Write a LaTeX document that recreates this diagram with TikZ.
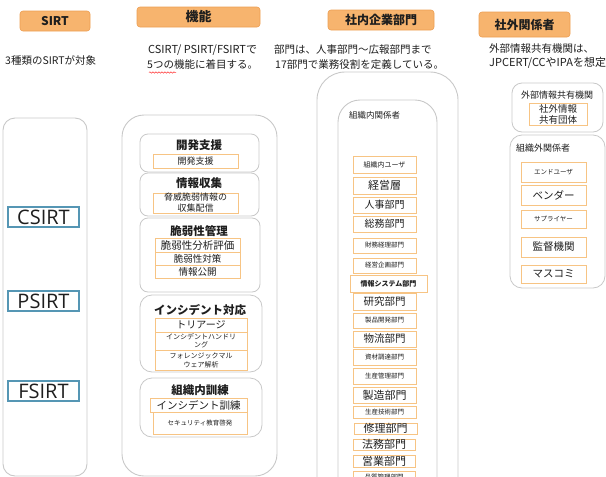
\documentclass[tikz,border=0pt]{standalone}
\usepackage{fontspec}
\setmainfont{Noto Sans CJK JP}
\newfontfamily\lat{Open Sans}
\usetikzlibrary{decorations.pathmorphing}
\definecolor{hdrfill}{RGB}{247,180,110}
\definecolor{hdrline}{RGB}{236,158,82}
\definecolor{oline}{RGB}{247,196,132}
\definecolor{bline}{RGB}{85,150,180}
\definecolor{gline}{RGB}{200,200,200}
\definecolor{txt}{RGB}{30,30,30}
\newcommand\fs[2]{\fontsize{#1}{#2}\selectfont}
\newcommand\bx[6]{\node[#1, minimum width={(#4)-(#2)}, minimum height={(#5)-(#3)}, inner sep=0pt] (#6) at ({((#2)+(#4))/2},{((#3)+(#5))/2}) {};}
\newcommand\tbx[8]{\bx{#1}{#2}{#3}{#4}{#5}{#6}\node[font=#7, align=center, inner sep=0pt, text=txt] (#6-t) at (#6.center) {#8};}
\tikzset{
  hdr/.style={fill=hdrfill, draw=hdrline, rounded corners=3pt, line width=0.6pt},
  outer/.style={draw=gline, line width=0.9pt},
  grp/.style={draw=gline, rounded corners=8pt, line width=0.8pt},
  obox/.style={draw=oline, line width=0.8pt},
  sbox/.style={draw=bline, line width=1.1pt},
  lbl/.style={inner sep=0pt, text=txt, anchor=west},
  ttl/.style={inner sep=0pt, text=txt, font=\fs{11.5}{13}\bfseries}
}
\begin{document}
\begin{tikzpicture}[x=1pt, y=-1pt]
\useasboundingbox (0,0) rectangle (606,477);
% headers
\tbx{hdr}{20}{11}{90}{31}{hS}{\fs{12}{14}\bfseries}{SIRT}
\tbx{hdr}{137}{7}{260}{27}{hK}{\fs{13}{15}\bfseries}{機能}
\tbx{hdr}{328}{10}{434}{30}{hN}{\fs{12}{14}\bfseries}{社内企業部門}
\tbx{hdr}{479}{12}{570}{37}{hG}{\fs{12}{14}\bfseries}{社外関係者}
% descriptions
\node[lbl, font=\fs{10.5}{12}] (d1) at (5,60) {3種類のSIRTが対象};
\node[lbl, font=\fs{11}{12}] (d2a) at (148,50) {CSIRT/ PSIRT/FSIRTで};
\node[lbl, font=\fs{10.5}{12}] (d2b) at (147,65) {5つの機能に着目する。};
\draw[red!80, line width=0.5pt, decorate, decoration={snake, amplitude=0.7pt, segment length=3pt}] (149,72.5) -- (176,72.5);
\node[lbl, font=\fs{10.5}{12}] (d3a) at (274,50) {部門は、人事部門～広報部門まで};
\node[lbl, font=\fs{10.5}{12}] (d3b) at (275,65) {17部門で業務役割を定義している。};
\node[lbl, font=\fs{10.5}{12}] (d4a) at (489,49) {外部情報共有機関は、};
\node[lbl, font=\fs{11}{12}] (d4b) at (489,63) {JPCERT/CCやIPAを想定};
% column 1
\bx{outer, rounded corners=12pt}{3}{118}{87}{476}{c1}
\tbx{sbox}{8}{207}{79}{227}{cs}{\lat\fs{20}{22}}{CSIRT}
\tbx{sbox}{8}{291}{79}{311}{ps}{\lat\fs{20}{22}}{PSIRT}
\tbx{sbox}{8}{381}{79}{401}{fs}{\lat\fs{20}{22}}{FSIRT}
% column 2
\bx{outer, rounded corners=22pt}{122}{115}{277}{476}{c2}
\bx{grp}{140}{134}{259}{172}{g1}
\bx{grp}{140}{173}{259}{216}{g2}
\bx{grp}{140}{218}{260}{292}{g3}
\bx{grp, rounded corners=12pt}{140}{295}{262}{372}{g4}
\bx{grp, rounded corners=12pt}{140}{378}{262}{437}{g5}
\node[ttl] (g1t) at (199,145) {開発支援};
\node[ttl] (g2t) at (199,183) {情報収集};
\node[ttl] (g3t) at (199,231) {脆弱性管理};
\node[ttl] (g4t) at (200,310) {インシデント対応};
\node[ttl] (g5t) at (200,390) {組織内訓練};
\tbx{obox}{153}{154}{238}{168}{k1}{\fs{9}{10}}{開発支援}
\tbx{obox}{153}{193}{238}{213}{k2}{\fs{9}{11}}{脅威脆弱情報の\\収集配信}
\tbx{obox}{155}{238}{240}{252}{k3}{\fs{10.5}{12}}{脆弱性分析評価}
\tbx{obox}{155}{252}{240}{265}{k4}{\fs{9.5}{11}}{脆弱性対策}
\tbx{obox}{155}{265}{240}{278}{k5}{\fs{9.5}{11}}{情報公開}
\tbx{obox}{155}{318}{247}{332}{k6}{\fs{10}{11}}{トリアージ}
\tbx{obox}{155}{332}{247}{350}{k7}{\fs{7}{8.5}}{インシデントハンドリ\\ング}
\tbx{obox}{155}{350}{247}{370}{k8}{\fs{7}{9}}{フォレンジックマル\\ウェア解析}
\tbx{obox}{150}{398}{247}{412}{k9}{\fs{10.5}{12}}{インシデント訓練}
\tbx{obox}{153}{412}{247}{434}{k10}{\fs{6.5}{8}}{セキュリティ教育啓発}
% column 3
\bx{outer, rounded corners=28pt}{317}{72}{458}{520}{c3}
\bx{outer, rounded corners=22pt}{338}{100}{437}{520}{c3i}
\node[lbl, font=\fs{8.5}{10}] (c3t) at (349,115) {組織内関係者};
\tbx{obox}{353}{156}{416}{173}{n1}{\fs{7}{8}}{組織内ユーザ}
\tbx{obox}{353}{177}{416}{194}{n2}{\fs{11}{12}}{経営層}
\tbx{obox}{353}{197}{416}{213}{n3}{\fs{10}{12}}{人事部門}
\tbx{obox}{353}{216}{416}{232}{n4}{\fs{10}{12}}{総務部門}
\tbx{obox}{353}{238}{416}{253}{n5}{\fs{6.5}{8}}{財務経理部門}
\tbx{obox}{353}{258}{416}{273}{n6}{\fs{6.5}{8}}{経営企画部門}
\tbx{obox}{350}{275}{427}{292}{n7}{\fs{7}{8}\bfseries}{情報システム部門}
\tbx{obox}{353}{293}{416}{310}{n8}{\fs{10.5}{12}}{研究部門}
\tbx{obox}{353}{313}{416}{328}{n9}{\fs{6.5}{8}}{製品開発部門}
\tbx{obox}{353}{331}{416}{347}{n10}{\fs{10.5}{12}}{物流部門}
\tbx{obox}{353}{349}{416}{365}{n11}{\fs{6.5}{8}}{資材調達部門}
\tbx{obox}{353}{368}{416}{384}{n12}{\fs{6.5}{8}}{生産管理部門}
\tbx{obox}{353}{387}{416}{403}{n13}{\fs{11}{12}}{製造部門}
\tbx{obox}{353}{406}{416}{418}{n14}{\fs{6.5}{8}}{生産技術部門}
\tbx{obox}{354}{423}{417}{434}{n15}{\fs{11}{12}}{修理部門}
\tbx{obox}{353}{439}{415}{450}{n16}{\fs{11}{12}}{法務部門}
\tbx{obox}{353}{455}{415}{467}{n17}{\fs{11}{12}}{営業部門}
\tbx{obox}{353}{471}{415}{483}{n18}{\fs{6.5}{8}}{品質管理部門}
% column 4
\bx{grp, rounded corners=10pt}{512}{83}{603}{132}{e1}
\node[inner sep=0pt, text=txt, font=\fs{9}{10}] (e1t) at (557,95) {外部情報共有機関};
\tbx{obox}{529}{103}{587}{125}{e1b}{\fs{9.5}{11}}{社外情報\\共有団体}
\bx{grp, rounded corners=12pt}{510}{135}{605}{288}{e2}
\node[lbl, font=\fs{9}{10}] (e2t) at (516,148) {組織外関係者};
\tbx{obox}{521}{162}{586}{182}{o1}{\fs{6.5}{8}}{エンドユーザ}
\tbx{obox}{521}{185}{586}{205}{o2}{\fs{10.5}{12}}{ベンダー}
\tbx{obox}{521}{210}{586}{228}{o3}{\fs{6.5}{8}}{サプライヤー}
\tbx{obox}{521}{237}{586}{257}{o4}{\fs{10.5}{12}}{監督機関}
\tbx{obox}{521}{265}{586}{283}{o5}{\fs{10.5}{12}}{マスコミ}
\end{tikzpicture}
\end{document}
